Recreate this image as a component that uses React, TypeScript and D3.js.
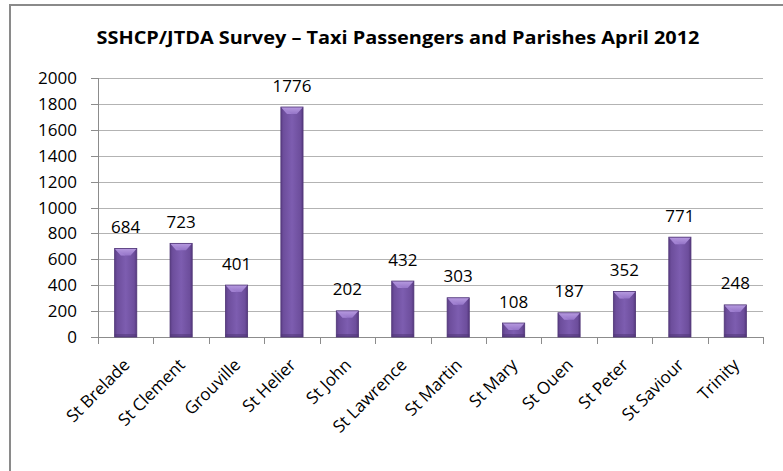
import React from "react";
import * as d3 from "d3";

const categories = ["St Brelade", "St Clement", "Grouville", "St Helier", "St John", "St Lawrence", "St Martin", "St Mary", "St Ouen", "St Peter", "St Saviour", "Trinity"];
const passengers = [684, 723, 401, 1776, 202, 432, 303, 108, 187, 352, 771, 248];
const yTicks = [0, 200, 400, 600, 800, 1000, 1200, 1400, 1600, 1800, 2000];
const title = "SSHCP/JTDA Survey \u2013 Taxi Passengers and Parishes April 2012";

const W = 783, H = 471;
const plotLeft = 98, plotRight = 763, plotTop = 78, plotBottom = 337;
const FONT = "'Open Sans', 'Noto Sans', sans-serif";

export default function App() {
  const x = d3.scaleBand<string>().domain(categories).range([plotLeft, plotRight]).paddingInner(0).paddingOuter(0);
  const y = d3.scaleLinear().domain([0, 2000]).range([plotBottom, plotTop]);
  const bw = x.bandwidth() * 0.4;
  const boundaries = d3.range(categories.length + 1).map((i) => plotLeft + i * x.step());

  return (
    <div style={{ position: "absolute", left: 0, top: 0 }}>
      <svg width={W} height={H} style={{ display: "block", background: "#fff" }}>
        <defs>
          <linearGradient id="barH" x1="0" x2="1" y1="0" y2="0">
            <stop offset="0" stopColor="#5b3e86" />
            <stop offset="0.12" stopColor="#6d4e9c" />
            <stop offset="0.5" stopColor="#7d5db0" />
            <stop offset="0.88" stopColor="#6d4e9c" />
            <stop offset="1" stopColor="#55387e" />
          </linearGradient>
          <linearGradient id="bevel" x1="0" x2="0" y1="0" y2="1">
            <stop offset="0" stopColor="#b79be0" />
            <stop offset="1" stopColor="#9575c8" />
          </linearGradient>
        </defs>
        {/* frame */}
        <line x1={10} x2={10} y1={5} y2={H} stroke="#8a8a8a" strokeWidth={2} />
        <line x1={9} x2={W} y1={5} y2={5} stroke="#8a8a8a" strokeWidth={2} />
        {/* title */}
        <text x={398} y={44} textAnchor="middle" fontFamily={FONT} fontWeight="bold" fontSize={17.5} fill="#000" textLength={603} lengthAdjust="spacingAndGlyphs">
          {title}
        </text>
        {/* gridlines */}
        {yTicks.filter((t) => t > 0).map((t) => (
          <line key={t} x1={plotLeft} x2={plotRight} y1={Math.round(y(t)) + 0.5} y2={Math.round(y(t)) + 0.5} stroke="#b3b3b3" strokeWidth={1} />
        ))}
        {/* y axis */}
        <line x1={plotLeft + 0.5} x2={plotLeft + 0.5} y1={plotTop} y2={plotBottom + 6} stroke="#8c8c8c" />
        {yTicks.map((t) => (
          <g key={t}>
            <line x1={plotLeft - 7} x2={plotLeft} y1={Math.round(y(t)) + 0.5} y2={Math.round(y(t)) + 0.5} stroke="#8c8c8c" />
            <text x={77} y={y(t) + 6} textAnchor="end" fontFamily={FONT} fontSize={17} fill="#000">{t}</text>
          </g>
        ))}
        {/* x axis */}
        <line x1={plotLeft} x2={plotRight} y1={plotBottom + 0.5} y2={plotBottom + 0.5} stroke="#8c8c8c" />
        {boundaries.map((bx, i) => (
          <line key={i} x1={Math.round(bx) + 0.5} x2={Math.round(bx) + 0.5} y1={plotBottom} y2={plotBottom + 7} stroke="#8c8c8c" />
        ))}
        {/* bars */}
        {categories.map((c, i) => {
          const v = passengers[i];
          const cx = (x(c) as number) + x.bandwidth() / 2;
          const x0 = cx - bw / 2;
          const yt = y(v);
          const h = plotBottom - yt;
          const bev = Math.min(7, h / 2);
          return (
            <g key={c}>
              <rect x={x0} y={yt} width={bw} height={h} fill="url(#barH)" />
              <polygon points={`${x0},${yt} ${x0 + bw},${yt} ${cx + bw * 0.22},${yt + bev} ${cx - bw * 0.22},${yt + bev}`} fill="url(#bevel)" />
              <polygon points={`${x0},${yt} ${cx - bw * 0.22},${yt + bev} ${cx},${yt + bev}`} fill="#a888d8" opacity={0.5} />
              <rect x={x0} y={plotBottom - 3} width={bw} height={3} fill="#4e3474" opacity={0.5} />
              <rect x={x0} y={yt} width={bw} height={h} fill="none" stroke="#4f3576" strokeWidth={0.8} />
              <text x={cx} y={yt - 15.5} textAnchor="middle" fontFamily={FONT} fontSize={17} fill="#000">{v}</text>
            </g>
          );
        })}
        {/* category labels */}
        {categories.map((c) => {
          const cx = (x(c) as number) + x.bandwidth() / 2;
          return (
            <text key={c} transform={`translate(${cx + 5},${366}) rotate(-45)`} textAnchor="end" fontFamily={FONT} fontSize={17} fill="#000">{c}</text>
          );
        })}
      </svg>
    </div>
  );
}
